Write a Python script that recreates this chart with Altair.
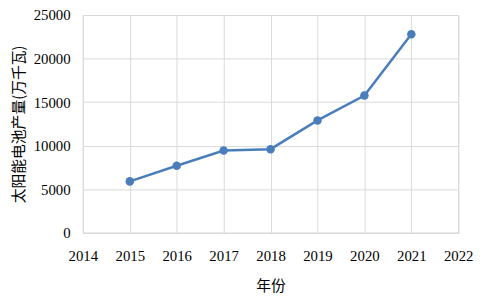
import altair as alt
import pandas as pd

years = [2015, 2016, 2017, 2018, 2019, 2020, 2021]
output = [5900, 7700, 9450, 9600, 12900, 15750, 22800]
x_ticks = [2014, 2015, 2016, 2017, 2018, 2019, 2020, 2021, 2022]
y_ticks = [0, 5000, 10000, 15000, 20000, 25000]

df = pd.DataFrame({"year": years, "value": output})

label_font = "Times New Roman, Liberation Serif, DejaVu Serif, serif"
title_font = "Noto Sans CJK SC"
color = "#4a7ebb"
grid = "#d9d9d9"

common = dict(ticks=False, domainColor=grid, gridColor=grid,
              labelFontSize=15, titleFontSize=15, titleFontWeight="normal",
              labelColor="#000", titleColor="#000",
              labelFont=label_font, titleFont=title_font,
              labelFlush=False, labelOverlap=False)

x = alt.X("year:Q", title="年份",
          scale=alt.Scale(domain=[2014, 2022], nice=False, zero=False),
          axis=alt.Axis(values=x_ticks, format="d", labelPadding=16, titlePadding=16, **common))
y = alt.Y("value:Q", title="太阳能电池产量(万千瓦)",
          scale=alt.Scale(domain=[0, 25000], nice=False),
          axis=alt.Axis(values=y_ticks, format="d", labelPadding=13, titlePadding=7, **common))

line = alt.Chart(df).mark_line(color=color, strokeWidth=2.5).encode(x=x, y=y)
pts = alt.Chart(df).mark_point(color=color, filled=True, opacity=1, size=75).encode(x=x, y=y)

chart = (line + pts).properties(
    width=381, height=221,
    autosize=alt.AutoSizeParams(type="none"),
    padding={"left": 76, "top": 5, "right": 16, "bottom": 60},
).configure(font=label_font).configure_view(stroke=grid)

chart.save("out.html", embed_options={"renderer": "svg", "actions": False})
